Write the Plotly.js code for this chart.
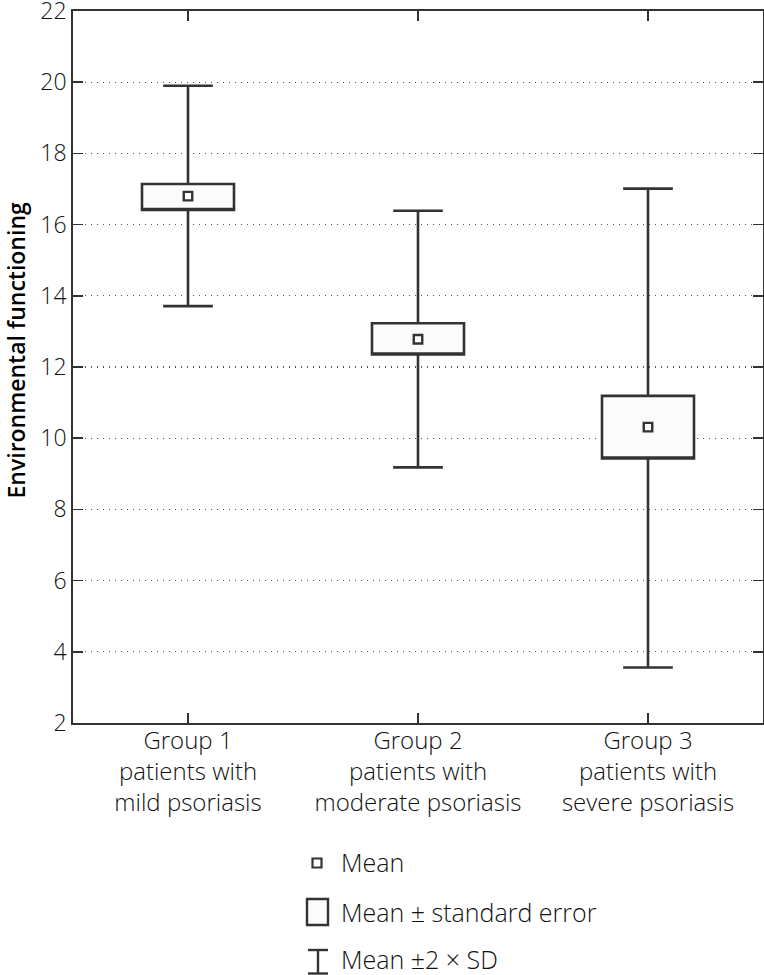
<!DOCTYPE html>
<html>
<head>
<meta charset="utf-8">
<script src="https://cdn.plot.ly/plotly-3.0.1.min.js"></script>
<style>
  html, body { margin: 0; padding: 0; background: #fff; }
  #chart { width: 764px; height: 975px; }
</style>
</head>
<body>
<div id="chart"></div>
<script>
// ---- data ----
const groups = [
  'Group 1<br>patients with<br>mild psoriasis',
  'Group 2<br>patients with<br>moderate psoriasis',
  'Group 3<br>patients with<br>severe psoriasis'
];
const positions = [0, 1, 2];
const means   = [16.80, 12.78, 10.31];
const seLow   = [16.41, 12.35, 9.43];
const seHigh  = [17.14, 13.23, 11.19];
const sdLow   = [13.71, 9.18, 3.56];
const sdHigh  = [19.90, 16.39, 17.01];
const yTicks  = [2, 4, 6, 8, 10, 12, 14, 16, 18, 20, 22];
const yTitle  = 'Environmental functioning';
const legendLabels = ['Mean', 'Mean ± standard error', 'Mean ±2 × SD'];

// ---- layout helpers ----
const W = 764, H = 975;
const M = { l: 73, r: 1, t: 11, b: 252 };
const PW = W - M.l - M.r, PH = H - M.t - M.b;
const px = x => (x - M.l) / PW;
const py = y => (H - M.b - y) / PH;
const ink = '#333333';
const txt = '#111111';
const font = 'Open Sans, Noto Sans, sans-serif';

const boxTrace = {
  type: 'box',
  x: positions,
  q1: seLow,
  median: seLow,
  q3: seHigh,
  lowerfence: sdLow,
  upperfence: sdHigh,
  width: 0.4,
  whiskerwidth: 0.54,
  fillcolor: '#fbfbfb',
  line: { color: ink, width: 2.6 },
  hoverinfo: 'skip',
  showlegend: false
};

const meanTrace = {
  type: 'scatter',
  mode: 'markers',
  x: positions,
  y: means,
  marker: { symbol: 'square', size: 8.5, color: '#ffffff', line: { color: ink, width: 2.4 } },
  hoverinfo: 'skip',
  showlegend: false,
  cliponaxis: false
};

// legend drawn below the plot
const legX = 317;
const legRows = [862, 912, 959];
const shapes = [
  { type: 'rect', xref: 'paper', yref: 'paper', x0: px(legX - 4.5), x1: px(legX + 4.5), y0: py(867.5), y1: py(858.5),
    line: { color: ink, width: 2.2 }, fillcolor: '#fff' },
  { type: 'rect', xref: 'paper', yref: 'paper', x0: px(307), x1: px(328), y0: py(925), y1: py(899),
    line: { color: ink, width: 2.4 }, fillcolor: '#fbfbfb' },
  { type: 'line', xref: 'paper', yref: 'paper', x0: px(318), x1: px(318), y0: py(974), y1: py(950),
    line: { color: ink, width: 2.4 } },
  { type: 'line', xref: 'paper', yref: 'paper', x0: px(308), x1: px(328), y0: py(950), y1: py(950),
    line: { color: ink, width: 2.4 } },
  { type: 'line', xref: 'paper', yref: 'paper', x0: px(308), x1: px(328), y0: py(973.5), y1: py(973.5),
    line: { color: ink, width: 2.4 } }
];
const annotations = legendLabels.map((t, i) => ({
  xref: 'paper', yref: 'paper', x: px(340), y: py(legRows[i]),
  xanchor: 'left', yanchor: 'middle', showarrow: false, borderpad: 0,
  text: t, font: { family: font, size: 25, color: txt, weight: 300 }
}));
annotations.push({
  xref: 'paper', yref: 'paper', x: px(15.5), y: py(350),
  xanchor: 'center', yanchor: 'middle', showarrow: false, borderpad: 0,
  textangle: -90, text: yTitle,
  font: { family: font, size: 23, color: '#000', weight: 600 }
});

const layout = {
  width: W, height: H,
  margin: M,
  paper_bgcolor: '#fff', plot_bgcolor: '#fff',
  font: { family: font, color: txt },
  showlegend: false,
  xaxis: {
    range: [-0.5, 2.5],
    tickmode: 'array', tickvals: positions, ticktext: groups,
    ticks: 'inside', ticklen: 10, tickwidth: 1.5, tickcolor: ink,
    showline: true, linecolor: ink, linewidth: 1.8, mirror: 'ticks',
    showgrid: false, zeroline: false, ticklabelstandoff: -5,
    tickfont: { family: font, size: 24, color: txt, weight: 300 }
  },
  yaxis: {
    range: [2, 22],
    tickmode: 'array', tickvals: yTicks,
    ticks: 'inside', ticklen: 10, tickwidth: 1.5, tickcolor: ink,
    showline: true, linecolor: ink, linewidth: 1.8, mirror: 'ticks',
    showgrid: true, gridcolor: '#555', gridwidth: 1.4, griddash: '1.4px,4.6px',
    zeroline: false, ticklabeloverflow: 'allow',
    tickfont: { family: font, size: 23, color: txt, weight: 300 }
  },
  shapes: shapes,
  annotations: annotations
};

Plotly.newPlot('chart', [boxTrace, meanTrace], layout, { staticPlot: true, displayModeBar: false });
</script>
</body>
</html>
